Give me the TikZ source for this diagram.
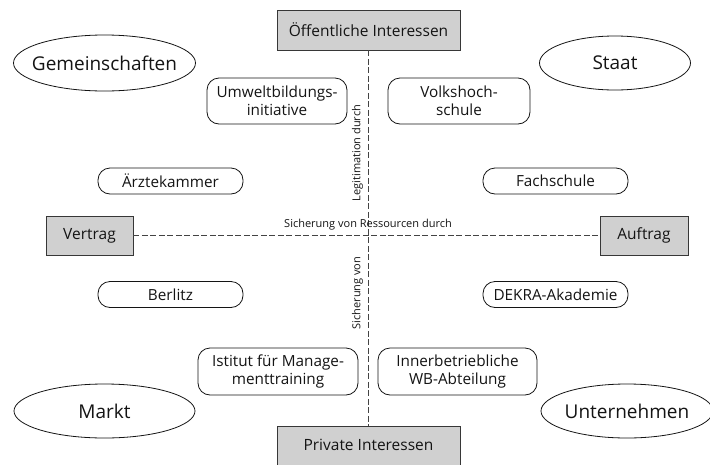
\documentclass[tikz,border=0pt]{standalone}
\usepackage{fontspec}
\setmainfont{Open Sans}
\definecolor{boxgray}{HTML}{D0D0D0}
\definecolor{ink}{HTML}{141414}
\tikzset{
  graybox/.style={draw=ink!85, line width=0.9pt, fill=boxgray, minimum height=40pt, inner sep=0pt, font=\fontsize{15.5}{17}\selectfont, text=ink},
  roundbox/.style={draw=ink, line width=0.8pt, rounded corners=12pt, fill=white, inner sep=0pt, align=center, font=\fontsize{15.3}{18}\selectfont, text=ink},
  ovaltext/.style={inner sep=0pt, font=\fontsize{19}{21}\selectfont, text=ink},
  ovalline/.style={draw=ink, line width=0.8pt},
  axis/.style={draw=ink!80, line width=0.8pt, dash pattern=on 6pt off 2.5pt},
  axlabel/.style={font=\fontsize{11}{13}\selectfont, text=ink, inner sep=1pt}
}
\begin{document}
\begin{tikzpicture}[x=1pt,y=-1pt]
\useasboundingbox (0,0) rectangle (710,464);
\fill[white] (0,0) rectangle (710,464);
% gray boxes
\node[graybox, minimum width=183pt] (oeff) at (368.5,30) {Öffentliche Interessen};
\node[graybox, minimum width=183pt, minimum height=44pt, anchor=north] (priv) at (368.5,426) {};
\node[font=\fontsize{15.5}{17}\selectfont, text=ink] (privtext) at (368.5,445) {Private Interessen};
\node[graybox, minimum width=87pt, minimum height=39pt] (vertrag) at (89.5,235.5) {Vertrag};
\node[graybox, minimum width=88pt, minimum height=39pt] (auftrag) at (644,235.5) {Auftrag};
% axes
\draw[axis] (oeff.south) -- (priv.north);
\draw[axis] (vertrag.east) -- (auftrag.west);
\node[axlabel, anchor=south] (res) at (368,231.5) {Sicherung von Ressourcen durch};
\node[axlabel, rotate=90] (legit) at (357.5,153) {Legitimation durch};
\node[axlabel, rotate=90] (sich) at (357.5,293) {Sicherung von};
% ellipses
\node[ovaltext] (gem) at (104.5,63) {Gemeinschaften};
\draw[ovalline] (gem.center) ellipse (91pt and 28pt);
\node[ovaltext] (staat) at (615,63) {Staat};
\draw[ovalline] (staat.center) ellipse (75.5pt and 27pt);
\node[ovaltext] (markt) at (104.5,411) {Markt};
\draw[ovalline] (markt.center) ellipse (90.5pt and 27pt);
\node[ovaltext] (unt) at (627,411) {Unternehmen};
\draw[ovalline] (unt.center) ellipse (86pt and 27pt);
% rounded boxes
\node[roundbox, minimum width=140pt, minimum height=46pt] (umwelt) at (277,101) {Umweltbildungs-\\initiative};
\node[roundbox, minimum width=142pt, minimum height=46pt] (vhs) at (459,101) {Volkshoch-\\schule};
\node[roundbox, minimum width=145pt, minimum height=26pt] (aerzte) at (170.5,181) {Ärztekammer};
\node[roundbox, minimum width=145pt, minimum height=26pt] (fach) at (555.5,181) {Fachschule};
\node[roundbox, minimum width=145pt, minimum height=26pt] (berlitz) at (170.5,294.5) {Berlitz};
\node[roundbox, minimum width=145pt, minimum height=26pt] (dekra) at (555.5,294.5) {DEKRA-Akademie};
\node[roundbox, minimum width=160pt, minimum height=47pt] (istitut) at (278,371.5) {Istitut für Manage-\\menttraining};
\node[roundbox, minimum width=159pt, minimum height=47pt] (inner) at (457.5,371.5) {Innerbetriebliche\\WB-Abteilung};
\end{tikzpicture}
\end{document}
